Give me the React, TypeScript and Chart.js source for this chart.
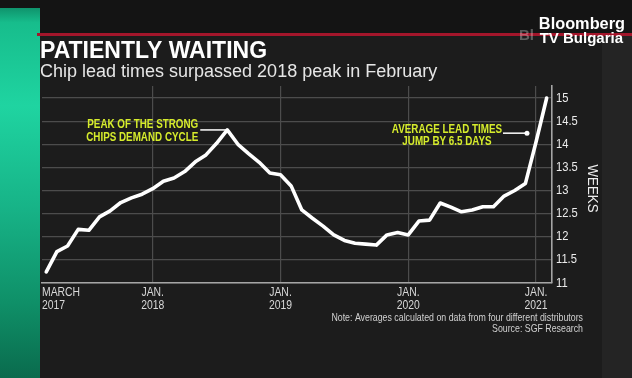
import React, { useEffect, useRef } from 'react';
import { Chart, registerables } from 'chart.js';

Chart.register(...registerables);

// Monthly average chip lead times (weeks), March 2017 -> February 2021
const leadTimes = [
  11.24, 11.68, 11.80, 12.16, 12.14, 12.43, 12.56, 12.74, 12.84, 12.92,
  13.04, 13.20, 13.27, 13.41, 13.62, 13.77, 14.02, 14.31, 14.00, 13.80,
  13.61, 13.38, 13.34, 13.10, 12.58, 12.40, 12.23, 12.04, 11.92, 11.86,
  11.84, 11.82, 12.04, 12.09, 12.04, 12.34, 12.36, 12.73, 12.64, 12.54,
  12.58, 12.65, 12.65, 12.88, 13.00, 13.15, 14.05, 15.00,
];

const tickMonthIndex = [0, 10, 22, 34, 46];
const tickLine1 = ['MARCH', 'JAN.', 'JAN.', 'JAN.', 'JAN.'];
const tickLine2 = ['2017', '2018', '2019', '2020', '2021'];
const yTicks = [11, 11.5, 12, 12.5, 13, 13.5, 14, 14.5, 15];
const yTickLabels = ['11', '11.5', '12', '12.5', '13', '13.5', '14', '14.5', '15'];

const titleText = 'PATIENTLY WAITING';
const subtitleText = 'Chip lead times surpassed 2018 peak in February';
const peakNote = ['PEAK OF THE STRONG', 'CHIPS DEMAND CYCLE'];
const peakCycleEnd = 24; // the 2018 cycle peak is searched before this month index
const jumpNote = ['AVERAGE LEAD TIMES', 'JUMP BY 6.5 DAYS'];
const jumpAnchor = { x: 45.15, y: 14.24 };
const footNotes = [
  'Note: Averages calculated on data from four different distributors',
  'Source: SGF Research',
];
const axisTitle = 'WEEKS';
const logoLines = ['Bloomberg', 'TV Bulgaria'];

const FF = "'Liberation Sans', Arial, sans-serif";

function condText(
  ctx: CanvasRenderingContext2D,
  text: string,
  x: number,
  y: number,
  align: 'left' | 'center' | 'right',
  sx: number
) {
  const w = ctx.measureText(text).width * sx;
  const start = align === 'left' ? x : align === 'center' ? x - w / 2 : x - w;
  ctx.save();
  ctx.translate(start, y);
  ctx.scale(sx, 1);
  ctx.textAlign = 'left';
  ctx.fillText(text, 0, 0);
  ctx.restore();
}

const decor = {
  id: 'decor',
  beforeDraw(chart: any) {
    const ctx: CanvasRenderingContext2D = chart.ctx;
    const W = chart.width;
    const H = chart.height;
    ctx.save();
    ctx.fillStyle = '#242424';
    ctx.fillRect(0, 0, W, H);
    ctx.fillStyle = '#1c1c1c';
    ctx.fillRect(40, 36, 562, H - 36);
    ctx.fillStyle = '#141414';
    ctx.fillRect(0, 0, W, 33);
    const g = ctx.createLinearGradient(0, 0, 0, H);
    g.addColorStop(0, '#0b7d5b');
    g.addColorStop(0.06, '#17bd8c');
    g.addColorStop(0.28, '#1fd4a1');
    g.addColorStop(0.55, '#17b387');
    g.addColorStop(0.8, '#0f9068');
    g.addColorStop(1, '#0a6b4d');
    ctx.fillStyle = g;
    ctx.fillRect(0, 8, 40, H - 8);
    ctx.fillStyle = '#a3162b';
    ctx.fillRect(37, 33, W - 37, 3);
    ctx.restore();
  },
  afterDraw(chart: any) {
    const ctx: CanvasRenderingContext2D = chart.ctx;
    const xs = chart.scales.x;
    const ys = chart.scales.y;
    const area = chart.chartArea;
    ctx.save();
    ctx.textBaseline = 'alphabetic';

    // Title & subtitle
    ctx.fillStyle = '#ffffff';
    ctx.font = `bold 23px ${FF}`;
    condText(ctx, titleText, 40, 58, 'left', 1);
    ctx.fillStyle = '#e6e6e6';
    ctx.font = `18px ${FF}`;
    condText(ctx, subtitleText, 40, 77, 'left', 1);

    // Logo
    ctx.fillStyle = 'rgba(255,255,255,0.3)';
    ctx.font = `bold 15px ${FF}`;
    condText(ctx, 'Bl', 519, 40, 'left', 1);
    ctx.fillStyle = '#ffffff';
    ctx.font = `bold 16px ${FF}`;
    condText(ctx, logoLines[0], 625, 29, 'right', 1.02);
    ctx.font = `bold 15px ${FF}`;
    condText(ctx, logoLines[1], 623, 43, 'right', 1);

    // Y tick labels
    ctx.fillStyle = '#ececec';
    ctx.font = `13px ${FF}`;
    ctx.textBaseline = 'middle';
    yTicks.forEach((v, i) => {
      condText(ctx, yTickLabels[i], area.right + 4, ys.getPixelForValue(v), 'left', 0.86);
    });

    // Axis title
    ctx.save();
    ctx.translate(592, (area.top + area.bottom) / 2 + 4);
    ctx.rotate(Math.PI / 2);
    ctx.font = `14px ${FF}`;
    ctx.fillStyle = '#eeeeee';
    condText(ctx, axisTitle, 0, 0, 'center', 0.95);
    ctx.restore();

    // X tick labels
    ctx.textBaseline = 'alphabetic';
    ctx.fillStyle = '#d8d8d8';
    ctx.font = `13px ${FF}`;
    tickMonthIndex.forEach((v, i) => {
      const px = xs.getPixelForValue(v);
      if (i === 0) {
        condText(ctx, tickLine1[i], area.left, area.bottom + 13, 'left', 0.8);
        condText(ctx, tickLine2[i], area.left, area.bottom + 26, 'left', 0.8);
      } else {
        condText(ctx, tickLine1[i], px, area.bottom + 13, 'center', 0.8);
        condText(ctx, tickLine2[i], px, area.bottom + 26, 'center', 0.8);
      }
    });

    // Foot notes
    ctx.fillStyle = '#d0d0d0';
    ctx.font = `11px ${FF}`;
    condText(ctx, footNotes[0], 583, 321, 'right', 0.8);
    condText(ctx, footNotes[1], 583, 332, 'right', 0.8);

    // Peak annotation (2018 cycle peak)
    let peakIdx = 0;
    for (let i = 0; i < peakCycleEnd; i++) {
      if (leadTimes[i] > leadTimes[peakIdx]) peakIdx = i;
    }
    const pkx = xs.getPixelForValue(peakIdx);
    const pky = ys.getPixelForValue(leadTimes[peakIdx]);
    ctx.strokeStyle = '#ffffff';
    ctx.lineWidth = 1.5;
    ctx.beginPath();
    ctx.moveTo(pkx - 27, pky);
    ctx.lineTo(pkx, pky);
    ctx.stroke();
    ctx.fillStyle = '#d6ec2c';
    ctx.font = `bold 12px ${FF}`;
    condText(ctx, peakNote[0], pkx - 29, pky - 2, 'right', 0.82);
    condText(ctx, peakNote[1], pkx - 29, pky + 11, 'right', 0.82);

    // Jump annotation
    const ax = xs.getPixelForValue(jumpAnchor.x);
    const ay = ys.getPixelForValue(jumpAnchor.y);
    ctx.beginPath();
    ctx.moveTo(ax - 24, ay);
    ctx.lineTo(ax, ay);
    ctx.stroke();
    ctx.fillStyle = '#ffffff';
    ctx.beginPath();
    ctx.arc(ax, ay, 2.5, 0, Math.PI * 2);
    ctx.fill();
    ctx.fillStyle = '#d6ec2c';
    condText(ctx, jumpNote[0], ax - 80, ay, 'center', 0.82);
    condText(ctx, jumpNote[1], ax - 80, ay + 12, 'center', 0.82);

    ctx.restore();
  },
};

export default function App() {
  const ref = useRef<HTMLCanvasElement | null>(null);

  useEffect(() => {
    document.body.style.margin = '0';
    document.body.style.overflow = 'hidden';
    const canvas = ref.current;
    if (!canvas) return;
    const chart = new Chart(canvas, {
      type: 'line',
      data: {
        datasets: [
          {
            data: leadTimes.map((v, i) => ({ x: i, y: v })),
            borderColor: '#ffffff',
            borderWidth: 3.6,
            pointRadius: 0,
            tension: 0,
            borderJoinStyle: 'round',
            borderCapStyle: 'round',
            fill: false,
          },
        ],
      },
      options: {
        responsive: false,
        animation: false,
        devicePixelRatio: 1,
        layout: { padding: { left: 42, top: 86, right: 0, bottom: 0 } },
        plugins: { legend: { display: false }, tooltip: { enabled: false } },
        scales: {
          x: {
            type: 'linear',
            min: -0.4,
            max: 47.5,
            afterBuildTicks: (scale: any) => {
              scale.ticks = tickMonthIndex.map((v) => ({ value: v }));
            },
            afterFit: (scale: any) => {
              scale.height = 95;
            },
            ticks: { display: false },
            grid: {
              drawTicks: false,
              color: (c: any) => (c.tick && c.tick.value === 0 ? 'rgba(0,0,0,0)' : '#4c4c4c'),
              lineWidth: 1.2,
            },
            border: { color: '#a5a5a5', width: 1.6 },
          },
          y: {
            position: 'right',
            min: 11,
            max: 15.26,
            afterBuildTicks: (scale: any) => {
              scale.ticks = yTicks.map((v) => ({ value: v }));
            },
            afterFit: (scale: any) => {
              scale.width = 80;
            },
            ticks: { display: false },
            grid: { drawTicks: false, color: '#4c4c4c', lineWidth: 1.2 },
            border: { color: '#a5a5a5', width: 1.6 },
          },
        },
      } as any,
      plugins: [decor],
    });
    return () => chart.destroy();
  }, []);

  return (
    <div style={{ width: 632, height: 378 }}>
      <canvas ref={ref} width={632} height={378} style={{ display: 'block', width: 632, height: 378 }} />
    </div>
  );
}
